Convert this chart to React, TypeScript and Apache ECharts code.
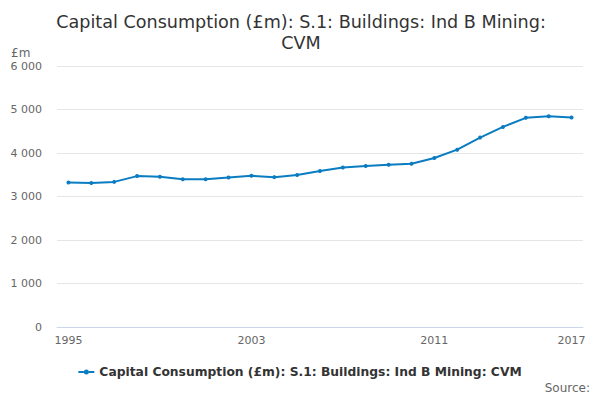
import React, { useEffect, useRef } from "react";
import * as echarts from "echarts";

const years = [
  "1995", "1996", "1997", "1998", "1999", "2000", "2001", "2002", "2003", "2004", "2005", "2006",
  "2007", "2008", "2009", "2010", "2011", "2012", "2013", "2014", "2015", "2016", "2017",
];
const values = [
  3320, 3312, 3336, 3469, 3453, 3398, 3398, 3437, 3477, 3445, 3492, 3586,
  3669, 3700, 3731, 3754, 3885, 4077, 4354, 4600, 4808, 4846, 4815,
];
const seriesName = "Capital Consumption (£m): S.1: Buildings: Ind B Mining: CVM";
const titleText = "Capital Consumption (£m): S.1: Buildings: Ind B Mining:\nCVM";
const FONT = "DejaVu Sans";

export default function App() {
  const ref = useRef<HTMLDivElement>(null);
  useEffect(() => {
    document.body.style.margin = "0";
    const chart = echarts.init(ref.current!, undefined, { renderer: "svg" });
    chart.setOption({
      animation: false,
      title: {
        text: titleText,
        left: 296,
        top: 6,
        textAlign: "center",
        textStyle: { fontFamily: FONT, fontSize: 17.6, fontWeight: "normal", color: "#333333", lineHeight: 21 },
      },
      graphic: [
        { type: "text", left: 11, top: 47, style: { text: "£m", fontFamily: FONT, fontSize: 12, fill: "#666666" } },
        { type: "text", right: 10, top: 382, style: { text: "Source:", fontFamily: FONT, fontSize: 12, fill: "#666666" } },
      ],
      legend: {
        bottom: 17,
        left: "center",
        itemWidth: 16,
        itemHeight: 5,
        icon: "path://M0,1.5 L5.5,1.5 L5.5,3.5 L0,3.5 Z M10.5,1.5 L16,1.5 L16,3.5 L10.5,3.5 Z M5.5,2.5 A2.5,2.5 0 1,1 10.5,2.5 A2.5,2.5 0 1,1 5.5,2.5 Z",
        textStyle: { fontFamily: FONT, fontSize: 12.3, fontWeight: "bold", color: "#333333" },
        data: [seriesName],
      },
      grid: { left: 57, right: 17, top: 66, bottom: 73 },
      xAxis: {
        type: "category",
        data: years,
        boundaryGap: true,
        axisLine: { lineStyle: { color: "#ccd6eb" } },
        axisTick: {
          alignWithLabel: true,
          length: 10,
          interval: (i: number) => i % 2 === 0,
          lineStyle: { color: "#ccd6eb" },
        },
        axisLabel: {
          interval: (i: number) => i % 8 === 0 || i === years.length - 1,
          fontFamily: FONT,
          fontSize: 11,
          color: "#666666",
          margin: 8,
        },
      },
      yAxis: {
        type: "value",
        min: 0,
        max: 6000,
        interval: 1000,
        axisLine: { show: false },
        axisTick: { show: false },
        splitLine: { lineStyle: { color: "#e6e6e6" } },
        axisLabel: {
          fontFamily: FONT,
          fontSize: 11,
          color: "#666666",
          margin: 15,
          formatter: (v: number) => String(v).replace(/\B(?=(\d{3})+(?!\d))/g, " "),
        },
      },
      series: [
        {
          name: seriesName,
          type: "line",
          data: values,
          symbol: "circle",
          symbolSize: 4,
          lineStyle: { width: 2, color: "#0a7cc2" },
          itemStyle: { color: "#0a7cc2" },
        },
      ],
    });
    return () => chart.dispose();
  }, []);
  return <div ref={ref} style={{ width: 600, height: 400 }} />;
}
